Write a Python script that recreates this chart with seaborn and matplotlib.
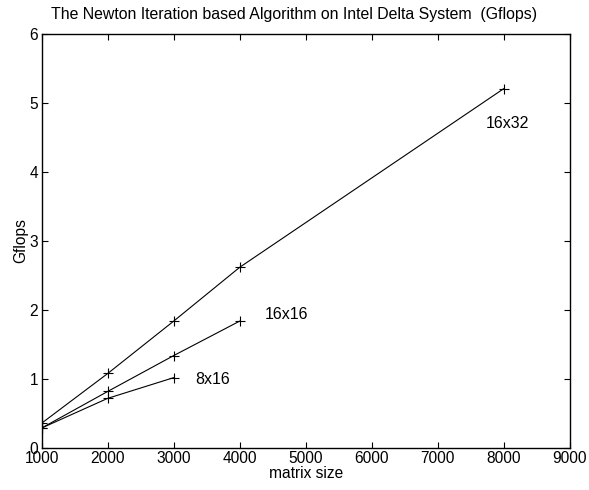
import matplotlib
matplotlib.use("Agg")
import matplotlib.pyplot as plt
import seaborn as sns
import pandas as pd

# data
sizes_16x32 = [1000, 2000, 3000, 4000, 8000]
gflops_16x32 = [0.36, 1.08, 1.84, 2.62, 5.21]
sizes_16x16 = [1000, 2000, 3000, 4000]
gflops_16x16 = [0.29, 0.82, 1.34, 1.84]
sizes_8x16 = [1000, 2000, 3000]
gflops_8x16 = [0.29, 0.72, 1.02]

series_labels = ["16x32", "16x16", "8x16"]
label_pos = [(7730, 4.70), (4380, 1.94), (3320, 0.99)]

x_ticks = [1000, 2000, 3000, 4000, 5000, 6000, 7000, 8000, 9000]
y_ticks = [0, 1, 2, 3, 4, 5, 6]

sns.set_style("ticks", {"axes.edgecolor": "black", "text.color": "black",
                        "axes.labelcolor": "black", "xtick.color": "black",
                        "ytick.color": "black"})
plt.rcParams['font.family'] = ['Liberation Sans', 'DejaVu Sans']

df = pd.concat([
    pd.DataFrame({"size": sizes_16x32, "gflops": gflops_16x32, "grid": "16x32"}),
    pd.DataFrame({"size": sizes_16x16, "gflops": gflops_16x16, "grid": "16x16"}),
    pd.DataFrame({"size": sizes_8x16, "gflops": gflops_8x16, "grid": "8x16"}),
])

fig = plt.figure(figsize=(5.89, 4.90), dpi=100)
ax = fig.add_axes([0.0708, 0.0857, 0.8969, 0.8449])

for name in series_labels:
    sub = df[df["grid"] == name]
    sns.lineplot(data=sub, x="size", y="gflops", ax=ax, color="black",
                 linewidth=0.8, marker="+", markersize=7, markeredgewidth=0.8,
                 markeredgecolor="black", estimator=None, sort=False)

for name, (lx, ly) in zip(series_labels, label_pos):
    ax.text(lx, ly, name, fontsize=11.5, ha="left", va="center", color="black")

ax.set_xlim(1000, 9000)
ax.set_ylim(0, 6)
ax.set_xticks(x_ticks)
ax.set_yticks(y_ticks)
ax.tick_params(direction="in", top=True, right=True, labelsize=11.2,
               length=4, width=0.8, pad=2.5, colors="black")
for s in ax.spines.values():
    s.set_linewidth(1.0)
    s.set_color("black")
ax.set_xlabel("matrix size", fontsize=11.2, labelpad=0, color="black")
ax.set_ylabel("Gflops", fontsize=11.2, labelpad=1, color="black")
# title is centred on the figure, not the axes
fig.suptitle("The Newton Iteration based Algorithm on Intel Delta System  (Gflops)",
             fontsize=11.4, x=0.5, y=1 - 15 / 490, va="center", color="black")

fig.savefig("out.png", dpi=100)
